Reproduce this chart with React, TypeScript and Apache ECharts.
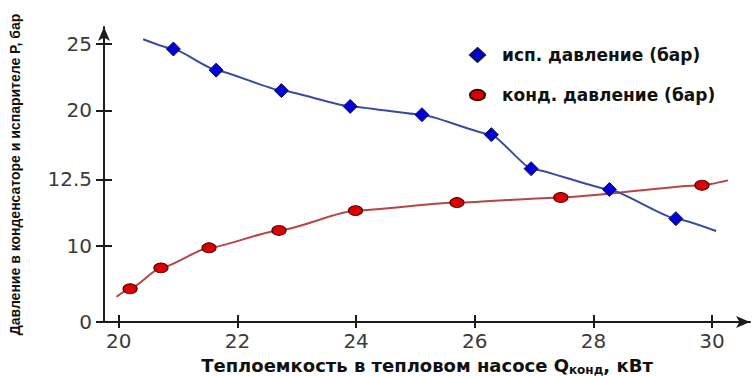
import React, { useEffect, useRef } from "react";
import * as echarts from "echarts";

// X axis ticks (kW)
const X_TICKS = [20, 22, 24, 26, 28, 30];
// Y axis tick labels (bar) – the original axis is non-linear
const Y_TICK_VALUES = [0, 10, 12.5, 20, 25];
const Y_TICK_POS = [0, 1.1, 2.07, 3.07, 4.04];

// Evaporator pressure (bar) vs heat capacity (kW)
const EVAP_Q = [20.41, 20.92, 21.64, 22.74, 23.9, 25.11, 26.28, 26.95, 28.27, 29.39, 30.07];
const EVAP_P = [25.32, 24.59, 23.01, 21.48, 20.3, 19.53, 17.36, 13.66, 12.12, 11.03, 10.57];
const EVAP_MARKED = [false, true, true, true, true, true, true, true, true, true, false];

// Condenser pressure (bar) vs heat capacity (kW)
const COND_Q = [19.96, 20.19, 20.71, 21.52, 22.7, 23.99, 25.7, 27.45, 29.83, 30.27];
const COND_P = [3.33, 4.38, 7.14, 9.78, 10.59, 11.33, 11.63, 11.82, 12.28, 12.46];
const COND_MARKED = [false, true, true, true, true, true, true, true, true, false];

const EVAP_NAME = "исп. давление (бар)";
const COND_NAME = "конд. давление (бар)";

function toPos(v: number): number {
  const n = Y_TICK_VALUES.length;
  let i = 0;
  if (v >= Y_TICK_VALUES[n - 1]) i = n - 2;
  else {
    for (let k = 0; k < n - 1; k++) {
      if (v >= Y_TICK_VALUES[k] && v <= Y_TICK_VALUES[k + 1]) {
        i = k;
        break;
      }
    }
  }
  const v0 = Y_TICK_VALUES[i], v1 = Y_TICK_VALUES[i + 1];
  const p0 = Y_TICK_POS[i], p1 = Y_TICK_POS[i + 1];
  return p0 + ((v - v0) / (v1 - v0)) * (p1 - p0);
}

function buildData(qs: number[], ps: number[], marked: boolean[]) {
  return qs.map((q, i) =>
    marked[i] ? { value: [q, toPos(ps[i])] } : { value: [q, toPos(ps[i])], symbol: "none" }
  );
}

export default function App() {
  const ref = useRef<HTMLDivElement>(null);
  useEffect(() => {
    document.body.style.margin = "0";
    if (!ref.current) return;
    const chart = echarts.init(ref.current, null, { renderer: "svg" });
    const axisColor = "#1c1c1c";
    const labelFont = {
      fontFamily: "DejaVu Sans",
      fontSize: 20,
      color: "#3a3a3a",
    };
    chart.setOption({
      animation: false,
      backgroundColor: "#ffffff",
      grid: { left: 104, right: 5, top: 27, bottom: 54, containLabel: false, outerBoundsMode: "none" },
      legend: {
        orient: "vertical",
        left: 464,
        top: 40,
        itemWidth: 15,
        itemHeight: 14,
        itemGap: 20,
        data: [
          { name: EVAP_NAME, icon: "diamond" },
          { name: COND_NAME, icon: "path://M7,0A7,5,0,1,1,7,10A7,5,0,1,1,7,0Z" },
        ],
        textStyle: {
          fontFamily: "DejaVu Sans",
          fontWeight: "bold",
          fontSize: 17,
          color: "#111",
          lineHeight: 20,
          padding: [0, 0, 0, 12],
        },
      },
      xAxis: [
        {
          type: "value",
          position: "bottom",
          min: 19.75,
          max: 30.64,
          axisLine: {
            show: true,
            symbol: ["none", "arrow"],
            symbolSize: [9, 14],
            lineStyle: { color: axisColor, width: 2 },
          },
          axisTick: {
            show: true,
            length: 6,
            customValues: X_TICKS,
            lineStyle: { color: axisColor, width: 2 },
          },
          axisLabel: { ...labelFont, margin: 9, customValues: X_TICKS },
          splitLine: { show: false },
          name: "{a|Теплоемкость в тепловом насосе Q}{s|конд}{a|, кВт}",
          nameLocation: "middle",
          nameGap: 30,
          nameTextStyle: {
            lineHeight: 20,
            rich: {
              a: { fontFamily: "DejaVu Sans", fontWeight: "bold", fontSize: 18, color: "#111", lineHeight: 20 },
              s: { fontFamily: "DejaVu Sans", fontWeight: "bold", fontSize: 12, color: "#111", lineHeight: 14, verticalAlign: "bottom" },
            },
          },
        },
        {
          type: "value",
          position: "bottom",
          min: 19.75,
          max: 30.64,
          axisLine: { show: false },
          axisTick: {
            show: true,
            inside: true,
            length: 7,
            customValues: X_TICKS,
            lineStyle: { color: axisColor, width: 2 },
          },
          axisLabel: { show: false },
          splitLine: { show: false },
        },
      ],
      yAxis: [
        {
          type: "value",
          position: "left",
          min: 0,
          max: 4.28,
          axisLine: {
            show: true,
            symbol: ["none", "arrow"],
            symbolSize: [9, 14],
            lineStyle: { color: axisColor, width: 2 },
          },
          axisTick: {
            show: true,
            length: 8,
            customValues: Y_TICK_POS,
            lineStyle: { color: axisColor, width: 2 },
          },
          axisLabel: {
            ...labelFont,
            margin: 12,
            customValues: Y_TICK_POS,
            formatter: (val: number) => {
              const i = Y_TICK_POS.findIndex((p) => Math.abs(p - val) < 1e-6);
              return i >= 0 ? String(Y_TICK_VALUES[i]) : "";
            },
          },
          splitLine: { show: false },
          name: "Давление в конденсаторе и испарителе Р, бар",
          nameLocation: "middle",
          nameGap: 82,
          nameRotate: 90,
          nameTextStyle: {
            fontFamily: "Liberation Sans Narrow, Liberation Sans",
            fontWeight: "bold",
            fontSize: 14,
            color: "#111",
          },
        },
        {
          type: "value",
          position: "left",
          min: 0,
          max: 4.28,
          axisLine: { show: false },
          axisTick: {
            show: true,
            inside: true,
            length: 8,
            customValues: Y_TICK_POS,
            lineStyle: { color: axisColor, width: 2 },
          },
          axisLabel: { show: false },
          splitLine: { show: false },
        },
      ],
      series: [
        {
          name: EVAP_NAME,
          type: "line",
          xAxisIndex: 0,
          yAxisIndex: 0,
          data: buildData(EVAP_Q, EVAP_P, EVAP_MARKED),
          smooth: 0.15,
          smoothMonotone: "x",
          symbol: "diamond",
          symbolSize: 14,
          lineStyle: { color: "#3a4aa0", width: 2 },
          itemStyle: { color: "#0000d8", borderColor: "#12124a", borderWidth: 1 },
          z: 3,
        },
        {
          name: COND_NAME,
          type: "line",
          xAxisIndex: 0,
          yAxisIndex: 0,
          data: buildData(COND_Q, COND_P, COND_MARKED),
          smooth: 0.2,
          smoothMonotone: "x",
          symbol: "circle",
          symbolSize: [14, 10],
          lineStyle: { color: "#b84444", width: 2 },
          itemStyle: { color: "#dd0000", borderColor: "#3a0000", borderWidth: 1 },
          z: 2,
        },
      ],
    });
    return () => chart.dispose();
  }, []);
  return <div ref={ref} style={{ width: 755, height: 376 }} />;
}
